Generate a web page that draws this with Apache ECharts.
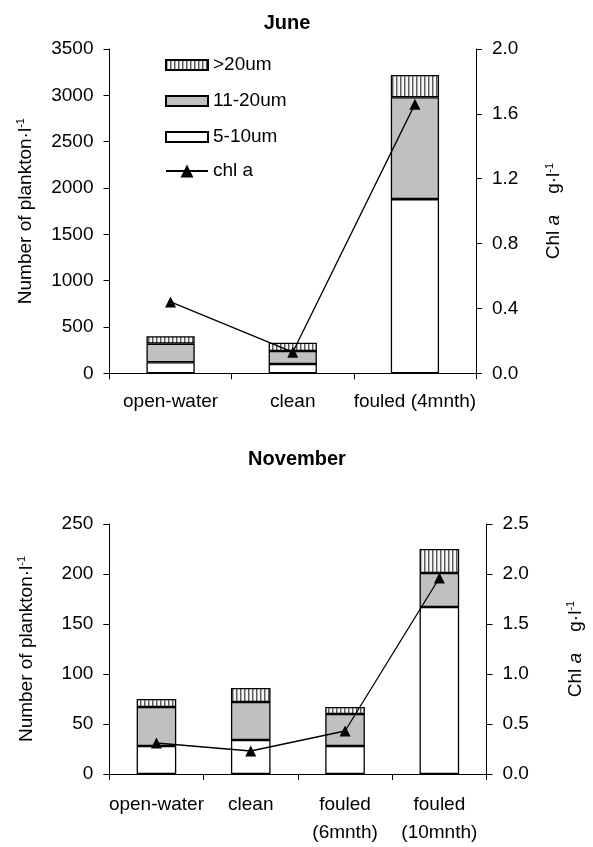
<!DOCTYPE html>
<html>
<head>
<meta charset="utf-8">
<script src="https://cdn.jsdelivr.net/npm/echarts@6/dist/echarts.min.js"></script>
<style>
  html, body { margin: 0; padding: 0; background: #fff; }
  #chart { width: 593px; height: 847px; }
</style>
</head>
<body>
<div id="chart"></div>
<script>
// June sampling: plankton counts per size class (stacked) and chlorophyll a
const juneCategories = ['open-water', 'clean', 'fouled (4mnth)'];
const juneSmall = [120, 100, 1880];   // 5-10um
const juneMid = [200, 140, 1100];     // 11-20um
const juneLarge = [80, 90, 240];      // >20um
const juneChl = [0.44, 0.13, 1.66];   // chl a

// November sampling
const novCategories = ['open-water', 'clean', 'fouled\n(6mnth)', 'fouled\n(10mnth)'];
const novSmall = [28, 34, 28, 167];
const novMid = [39, 38, 32, 34];
const novLarge = [8, 14, 7, 24];
const novChl = [0.31, 0.23, 0.43, 1.96];

const leftTicksJune = { min: 0, max: 3500, interval: 500 };
const rightTicksJune = { min: 0, max: 2.0, interval: 0.4 };
const leftTicksNov = { min: 0, max: 250, interval: 50 };
const rightTicksNov = { min: 0, max: 2.5, interval: 0.5 };

const FONT = 'Liberation Sans, Arial, sans-serif';
const FS = 19;

// vertical-line hatch fill for the >20um class
function hatchPattern() {
  const c = document.createElement('canvas');
  c.width = 4; c.height = 4;
  const g = c.getContext('2d');
  g.fillStyle = '#f4f4f4';
  g.fillRect(0, 0, 4, 4);
  g.fillStyle = '#5a5a5a';
  g.fillRect(0, 0, 1, 4);
  g.fillStyle = '#b0b0b0';
  g.fillRect(1, 0, 1, 4);
  return { image: c, repeat: 'repeat' };
}
const hatch = hatchPattern();

const axisLineStyle = { lineStyle: { color: '#000', width: 1 } };
const labelStyle = { color: '#000', fontSize: FS, fontFamily: FONT };
const nameRich = {
  it: { fontStyle: 'italic', fontSize: FS, fontFamily: FONT, color: '#000' },
  sup: { fontSize: 11, fontFamily: FONT, color: '#000', padding: [0, 0, 9, 0] }
};

function xAxisFor(gridIndex, cats, margin, lineHeight) {
  return {
    type: 'category', gridIndex, data: cats,
    axisLine: axisLineStyle,
    axisTick: { show: true, length: 6, alignWithLabel: false, lineStyle: { color: '#000' } },
    axisLabel: Object.assign({ margin, lineHeight, interval: 0 }, labelStyle),
    splitLine: { show: false }
  };
}

function yAxisFor(gridIndex, ticks, position, name, nameGap, decimals) {
  return Object.assign({
    type: 'value', gridIndex, position,
    name, nameLocation: 'middle', nameGap, nameRotate: 90,
    nameTextStyle: { color: '#000', fontSize: FS, fontFamily: FONT, rich: nameRich },
    axisLine: { show: true, lineStyle: { color: '#000', width: 1 } },
    axisTick: { show: true, length: 6, lineStyle: { color: '#000' } },
    axisLabel: Object.assign({
      margin: 16,
      formatter: v => v.toFixed(decimals)
    }, labelStyle),
    splitLine: { show: false }
  }, ticks);
}

const plankName = 'Number of plankton·l{sup|-1}';
const chlName = 'Chl {it|a}    g·l{sup|-1}';

function barSeries(name, data, color, xi, yi, stack, width) {
  return {
    name, type: 'bar', stack, data,
    xAxisIndex: xi, yAxisIndex: yi,
    barWidth: width,
    itemStyle: { color, borderColor: '#000', borderWidth: 1.3 },
    emphasis: { disabled: true }
  };
}

function chlSeries(data, xi, yi) {
  return {
    name: 'chl a', type: 'line', data,
    xAxisIndex: xi, yAxisIndex: yi,
    symbol: 'triangle', symbolSize: 11,
    lineStyle: { color: '#000', width: 1.3 },
    itemStyle: { color: '#000' },
    z: 5
  };
}

const legendText = { color: '#000', fontSize: FS, fontFamily: FONT, lineHeight: 20 };

const chart = echarts.init(document.getElementById('chart'), null, { renderer: 'canvas' });

chart.setOption({
  animation: false,
  backgroundColor: '#fff',
  textStyle: { fontFamily: FONT },
  graphic: [
    { type: 'text', x: 287, y: 23,
      style: { text: 'June', font: 'bold 20px ' + FONT, fill: '#000', align: 'center', verticalAlign: 'middle' } },
    { type: 'text', x: 297, y: 459,
      style: { text: 'November', font: 'bold 20px ' + FONT, fill: '#000', align: 'center', verticalAlign: 'middle' } }
  ],
  legend: [
    {
      orient: 'vertical', left: 165, top: 55, padding: 0,
      icon: 'rect',
      itemWidth: 42, itemHeight: 10, itemGap: 16,
      textStyle: legendText,
      data: ['>20um', '11-20um', '5-10um'],
      selectedMode: false
    },
    {
      orient: 'vertical', left: 165, top: 161, padding: 0,
      itemWidth: 42, itemHeight: 16,
      textStyle: legendText,
      data: ['chl a'],
      selectedMode: false
    }
  ],
  grid: [
    { left: 109.5, top: 49, width: 366.5, height: 324.3 },
    { left: 109.3, top: 524, width: 381.7, height: 256.5 }
  ],
  xAxis: [xAxisFor(0, juneCategories, 17, 22), xAxisFor(1, novCategories, 17, 28)],
  yAxis: [
    yAxisFor(0, leftTicksJune, 'left', plankName, 74, 0),
    yAxisFor(0, rightTicksJune, 'right', chlName, 68, 1),
    yAxisFor(1, leftTicksNov, 'left', plankName, 73, 0),
    yAxisFor(1, rightTicksNov, 'right', chlName, 79, 1)
  ],
  series: [
    barSeries('5-10um', juneSmall, '#ffffff', 0, 0, 'june', '39.5%'),
    barSeries('11-20um', juneMid, '#c0c0c0', 0, 0, 'june', '39.5%'),
    barSeries('>20um', juneLarge, hatch, 0, 0, 'june', '39.5%'),
    chlSeries(juneChl, 0, 1),
    barSeries('5-10um', novSmall, '#ffffff', 1, 2, 'nov', '42%'),
    barSeries('11-20um', novMid, '#c0c0c0', 1, 2, 'nov', '42%'),
    barSeries('>20um', novLarge, hatch, 1, 2, 'nov', '42%'),
    chlSeries(novChl, 1, 3)
  ]
});
</script>
</body>
</html>
